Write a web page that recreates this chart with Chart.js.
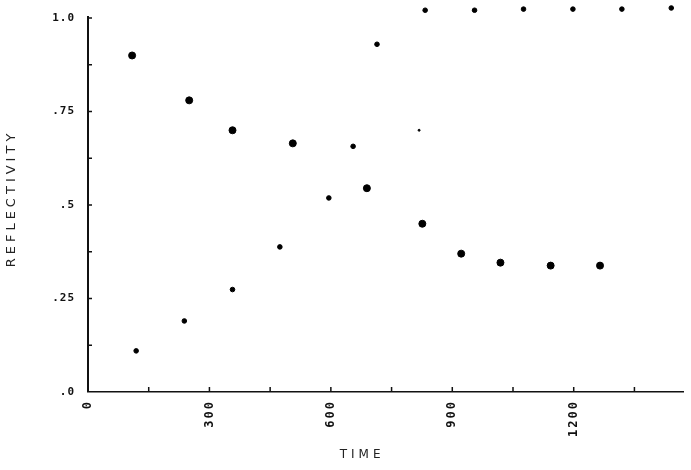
<!DOCTYPE html>
<html>
<head>
<meta charset="utf-8">
<script src="https://cdn.jsdelivr.net/npm/chart.js@4"></script>
<style>
  html, body { margin: 0; padding: 0; background: #fff; }
  #wrap { width: 691px; height: 470px; }
</style>
</head>
<body>
<div id="wrap"><canvas id="reflChart" width="691" height="470"></canvas></div>
<script>
// falling series (large dots)
const fallTime = [109, 250, 357, 506, 689, 826, 922, 1019, 1143, 1265];
const fallRefl = [0.90, 0.78, 0.70, 0.665, 0.545, 0.45, 0.37, 0.346, 0.338, 0.338];
// rising series (small dots)
const riseTime = [119, 238, 357, 474, 595, 655, 714, 833, 955, 1076, 1198, 1319, 1441];
const riseRefl = [0.11, 0.19, 0.274, 0.388, 0.519, 0.657, 0.93, 1.021, 1.021, 1.024, 1.024, 1.024, 1.027];
// faint stray mark
const faintTime = [818];
const faintRefl = [0.70];

const xLabels = {0: '0', 300: '300', 600: '600', 900: '900', 1200: '1200'};
const yLabels = {0: '.0', 0.25: '.25', 0.5: '.5', 0.75: '.75', 1: '1.0'};

function pts(xs, ys) {
    return xs.map((x, i) => ({x: x, y: ys[i]}));
}

// wrap a scale method so its text is drawn letter-spaced (plotter lettering)
function spaced(scale, method, spacing) {
    const orig = scale[method];
    scale[method] = function() {
        const c = this.ctx;
        c.save();
        c.letterSpacing = spacing;
        orig.apply(this, arguments);
        c.restore();
    };
}

const plotterText = {
    id: 'plotterText',
    beforeDraw(chart) {
        const xs = chart.scales.x, ys = chart.scales.y;
        if (xs._spaced) return;
        spaced(xs, 'drawTitle', '4px');
        spaced(ys, 'drawTitle', '4px');
        spaced(xs, 'drawLabels', '2px');
        spaced(ys, 'drawLabels', '1px');
        xs._spaced = true;
    }
};

// axis line up to 1.0 plus small inward ticks, like the plotter drew
const plotterAxes = {
    id: 'plotterAxes',
    afterDraw(chart) {
        const ctx = chart.ctx;
        const xs = chart.scales.x, ys = chart.scales.y;
        ctx.save();
        ctx.strokeStyle = '#111';
        ctx.lineWidth = 2;
        ctx.beginPath();
        ctx.moveTo(xs.left, ys.getPixelForValue(0));
        ctx.lineTo(xs.left, ys.getPixelForValue(1) - 2);
        ctx.stroke();
        ctx.lineWidth = 1.5;
        ctx.beginPath();
        xs.ticks.forEach(t => {
            if (t.value % 150 !== 0 || t.value === 0) return;
            const px = xs.getPixelForValue(t.value);
            ctx.moveTo(px, ys.bottom);
            ctx.lineTo(px, ys.bottom - 5);
        });
        ys.ticks.forEach(t => {
            if (t.value === 0 || t.value > 1) return;
            const py = ys.getPixelForValue(t.value);
            ctx.moveTo(xs.left, py);
            ctx.lineTo(xs.left + 4, py);
        });
        ctx.stroke();
        ctx.restore();
    }
};

const ctx = document.getElementById('reflChart').getContext('2d');
const chart = new Chart(ctx, {
    type: 'scatter',
    data: {
        datasets: [{
            label: 'falling',
            data: pts(fallTime, fallRefl),
            backgroundColor: '#000',
            borderColor: '#000',
            pointRadius: 3.5
        }, {
            label: 'rising',
            data: pts(riseTime, riseRefl),
            backgroundColor: '#000',
            borderColor: '#000',
            pointRadius: 2.3
        }, {
            label: 'faint',
            data: pts(faintTime, faintRefl),
            backgroundColor: '#000',
            borderColor: '#000',
            pointRadius: 1
        }]
    },
    options: {
        responsive: false,
        animation: false,
        layout: { padding: { left: 0, top: 0, right: 8, bottom: 0 } },
        plugins: {
            legend: { display: false },
            tooltip: { enabled: false }
        },
        scales: {
            x: {
                type: 'linear',
                min: 0,
                max: 1470,
                afterFit(scale) { scale.height = 78; scale.paddingLeft = 0; scale.paddingRight = 0; },
                grid: { display: false },
                border: { display: true, color: '#111', width: 1.5 },
                ticks: {
                    stepSize: 150,
                    autoSkip: false,
                    minRotation: 90,
                    maxRotation: 90,
                    padding: 0,
                    color: '#111',
                    font: { family: 'DejaVu Sans Mono', size: 12, weight: 'bold' },
                    callback: v => xLabels[v] !== undefined ? xLabels[v] : ''
                },
                title: {
                    display: true,
                    text: 'TIME      ',
                    color: '#222',
                    padding: { top: 4, bottom: 8 },
                    font: { family: 'DejaVu Sans', size: 12 }
                }
            },
            y: {
                min: 0,
                max: 1.035,
                afterFit(scale) { scale.width = 88; scale.paddingTop = 0; scale.paddingBottom = 0; },
                grid: { display: false },
                border: { display: false },
                ticks: {
                    stepSize: 0.125,
                    autoSkip: false,
                    padding: 5,
                    color: '#111',
                    font: { family: 'DejaVu Sans Mono', size: 11, weight: 'bold' },
                    callback: v => yLabels[v] !== undefined ? yLabels[v] : ''
                },
                title: {
                    display: true,
                    text: 'REFLECTIVITY',
                    color: '#222',
                    padding: { top: 4, bottom: 4 },
                    font: { family: 'DejaVu Sans', size: 13 }
                }
            }
        }
    },
    plugins: [plotterText, plotterAxes]
});
</script>
</body>
</html>
